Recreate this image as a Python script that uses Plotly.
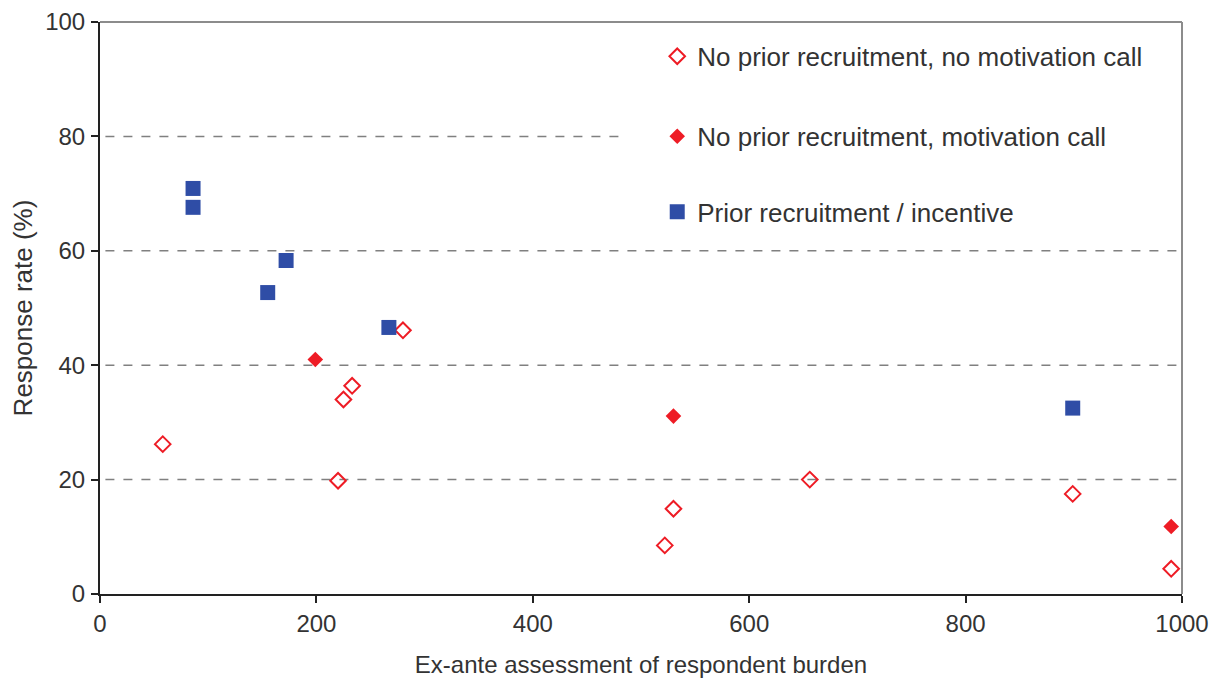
import plotly.graph_objects as go

# Data
open_x = [58, 220, 225, 233, 280, 522, 530, 656, 899, 990]
open_y = [26.2, 19.8, 34.0, 36.4, 46.1, 8.5, 14.9, 20.0, 17.5, 4.4]

call_x = [199, 530, 990]
call_y = [41.0, 31.1, 11.8]

prior_x = [86, 86, 155, 172, 267, 899]
prior_y = [70.9, 67.6, 52.7, 58.3, 46.6, 32.5]

names = ["No prior recruitment, no motivation call",
         "No prior recruitment, motivation call",
         "Prior recruitment / incentive"]

x_ticks = [0, 200, 400, 600, 800, 1000]
y_ticks = [0, 20, 40, 60, 80, 100]
grid_vals = [20, 40, 60, 80]

RED = "#EE1C25"
BLUE = "#2F4DA6"
TXT = "#333333"
FONT = "Arial, Liberation Sans, sans-serif"

fig = go.Figure()
fig.add_trace(go.Scatter(x=open_x, y=open_y, mode="markers", name=names[0],
                         marker=dict(symbol="diamond-open", size=12, color=RED,
                                     line=dict(width=2, color=RED)),
                         legend="legend", showlegend=True))
fig.add_trace(go.Scatter(x=call_x, y=call_y, mode="markers", name=names[1],
                         marker=dict(symbol="diamond", size=12, color=RED),
                         legend="legend2", showlegend=True))
fig.add_trace(go.Scatter(x=prior_x, y=prior_y, mode="markers", name=names[2],
                         marker=dict(symbol="square", size=15, color=BLUE),
                         legend="legend3", showlegend=True))

def leg(x, y):
    return dict(x=x, y=y, xref="paper", yref="paper", xanchor="left", yanchor="middle",
                bgcolor="rgba(0,0,0,0)", font=dict(family=FONT, size=26, color=TXT))

# gridlines (the 80 line is interrupted by the legend box)
shapes = []
for g in grid_vals:
    shapes.append(dict(type="line", xref="x domain", yref="y", x0=0.005,
                       x1=(0.48 if g == 80 else 1), y0=g, y1=g,
                       line=dict(color="#808080", width=1.5, dash="dash"),
                       layer="below"))
# grey frame on top and right
shapes.append(dict(type="line", xref="x domain", yref="y domain", x0=0, x1=1, y0=1, y1=1,
                   line=dict(color="#8c8c8c", width=2), layer="above"))
shapes.append(dict(type="line", xref="x domain", yref="y domain", x0=1, x1=1, y0=0, y1=1,
                   line=dict(color="#8c8c8c", width=2), layer="above"))

fig.update_layout(
    width=1218, height=679,
    margin=dict(l=92, r=44, t=14, b=93),
    paper_bgcolor="white", plot_bgcolor="white",
    showlegend=True,
    font=dict(family=FONT, size=24, color=TXT),
    legend=leg(0.515, 0.940),
    legend2=leg(0.515, 0.800),
    legend3=leg(0.515, 0.668),
    xaxis=dict(range=[0, 1000], tickvals=x_ticks, showgrid=False, zeroline=False,
               automargin=False,
               showline=True, linecolor="#222222", linewidth=2,
               ticks="outside", ticklen=7, tickwidth=1.5, tickcolor="#222222",
               ticklabeloverflow="allow",
               tickfont=dict(size=24, color=TXT),
               title=dict(text="Ex-ante assessment of respondent burden",
                          font=dict(size=24, color=TXT), standoff=20)),
    yaxis=dict(range=[0, 100], tickvals=y_ticks, zeroline=False, showgrid=False,
               automargin=False,
               showline=True, linecolor="#222222", linewidth=2,
               ticks="outside", ticklen=7, tickwidth=1.5, tickcolor="#222222",
               ticklabelstandoff=1, ticklabeloverflow="allow",
               tickfont=dict(size=24, color=TXT),
               title=dict(text="Response rate (%)", font=dict(size=26, color=TXT),
                          standoff=10)),
    shapes=shapes,
)

fig.write_html("out.html")
